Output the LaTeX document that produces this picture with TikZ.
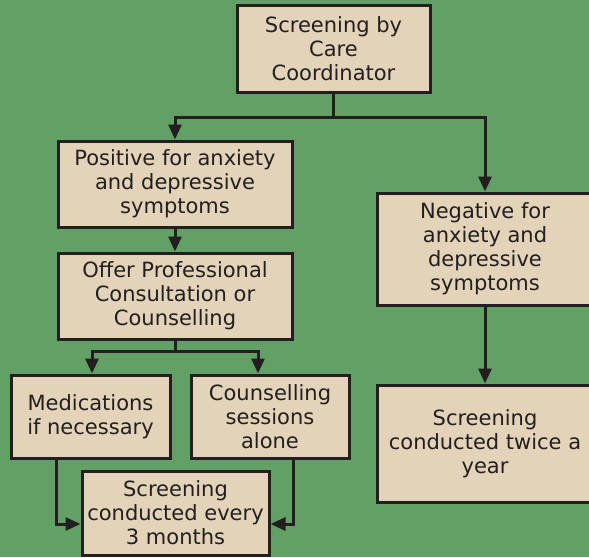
\documentclass[tikz,border=0pt]{standalone}
\usepackage{fontspec}
\setmainfont{DejaVu Sans}
\usepackage{xcolor}
\usetikzlibrary{arrows.meta}
\definecolor{bggreen}{RGB}{98,160,102}
\definecolor{boxtan}{RGB}{226,211,185}
\definecolor{inkgray}{RGB}{35,31,32}

\begin{document}
\begin{tikzpicture}[x=1pt,y=-1pt,
  box/.style={draw=inkgray,fill=boxtan,line width=3pt,inner sep=0pt,align=center,
    text=inkgray,font=\fontsize{21}{24}\selectfont},
  link/.style={draw=inkgray,line width=3pt,-{Triangle[length=15pt,width=13pt]}}]
\clip(0,0)rectangle(589,557);
\fill[bggreen](0,0)rectangle(589,557);
\node[box,minimum width=193,minimum height=87](coord)at(333.5,48.5){Screening by\\Care\\Coordinator};
\node[box,minimum width=234,minimum height=86](pos)at(175,184){Positive for anxiety\\and depressive\\symptoms};
\node[box,minimum width=234,minimum height=86](offer)at(175,296){Offer Professional\\Consultation or\\Counselling};
\node[box,minimum width=216,minimum height=112](neg)at(485,249){Negative for\\anxiety and\\depressive\\symptoms};
\node[box,minimum width=216,minimum height=117](twice)at(485,443.5){Screening\\conducted twice a\\year};
\node[box,minimum width=159,minimum height=83](meds)at(90.5,416.5){Medications\\if necessary};
\node[box,minimum width=158,minimum height=83](alone)at(270,416.5){Counselling\\sessions\\alone};
\node[box,minimum width=187,minimum height=84](every)at(175.5,513){Screening\\conducted every\\3 months};
% connectors
\draw[link](coord.south)--++(0,24)-|(pos.north);
\draw[link](coord.south)--++(0,24)-|(neg.north);
\draw[link](pos)--(offer);
\draw[link](offer.south)--++(0,11)-|([xshift=1.5pt]meds.north);
\draw[link](offer.south)--++(0,11)-|([xshift=-12pt]alone.north);
\draw[link]([xshift=-34.5pt]meds.south)|-([yshift=-11pt]every.west);
\draw[link]([xshift=23pt]alone.south)|-([yshift=-11pt]every.east);
\draw[link](neg)--(twice);
\end{tikzpicture}
\end{document}
